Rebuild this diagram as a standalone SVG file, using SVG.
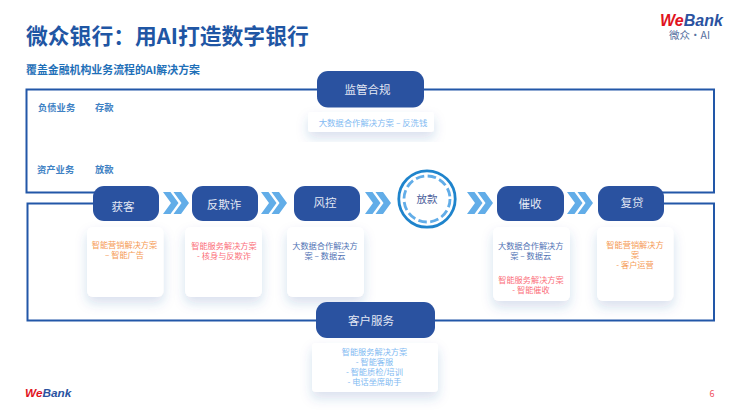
<svg xmlns="http://www.w3.org/2000/svg" width="740" height="415" viewBox="0 0 740 415">
<defs>
<filter id="sh" x="-40%" y="-40%" width="180%" height="190%"><feDropShadow dx="0" dy="6" stdDeviation="6" flood-color="#2a52a0" flood-opacity="0.18"/></filter>
<g id="chev"><path d="M0 0h7.500l8 11-8 11h-7.500l8-11z"/><path d="M10.500 0h7.500l8 11-8 11h-7.500l8-11z"/></g>
</defs>
<style>
text{font-family:"Noto Sans CJK SC","Liberation Sans",sans-serif}
.en{font-family:"Liberation Sans",sans-serif;font-weight:700;font-style:italic}
.pill{fill:#2a52a0}
.pt{fill:#e3e8f4;font-size:11.500px;text-anchor:middle}
.card{fill:#fff;filter:url(#sh)}
.ct{font-size:8.200px;text-anchor:middle}
.or{fill:#f59a55}.rd{fill:#fb6f7a}.bl{fill:#4f72b4}.lb{fill:#7fbaf2}
.side{fill:#3f82c4;font-size:9.300px;font-weight:700}
.line{fill:none;stroke:#2257a8;stroke-width:2}
.chev{fill:#62ade8}
</style>
<rect width="740" height="415" fill="#fff"/>
<text x="26" y="44" font-size="21.800" font-weight="700" fill="#1f56a4">微众银行：用AI打造数字银行</text>
<text x="26" y="74" font-size="10.900" font-weight="700" fill="#1f70b8">覆盖金融机构业务流程的AI解决方案</text>
<g id="logo-top"><text class="en" x="660" y="26" font-size="16"><tspan fill="#e0141e">We</tspan><tspan fill="#2a52a0">Bank</tspan></text><text x="669" y="39" font-size="10.500" fill="#56709f">微众·AI</text></g>
<g id="connectors">
<path class="line" d="M320 89.500H714V192.500H660"/>
<path class="line" d="M320 89.500H26.500V192.500H100"/>
<path class="line" d="M100 203.500H27.500V320.500H320"/>
<path class="line" d="M430 320.500H714V203.500H660"/>
<use href="#chev" class="chev" x="163" y="192"/>
<use href="#chev" class="chev" x="261" y="192"/>
<use href="#chev" class="chev" x="365" y="192"/>
<use href="#chev" class="chev" x="467" y="192"/>
<use href="#chev" class="chev" x="567" y="192"/>
</g>
<g id="row-liability"><text class="side" x="38" y="111">负债业务</text><text class="side" x="95" y="111">存款</text></g>
<g id="row-asset"><text class="side" x="37" y="173">资产业务</text><text class="side" x="95" y="173">放款</text></g>
<g id="node-regulation"><rect class="card" x="308" y="112" width="126" height="20" rx="3"/><text class="ct lb" x="373" y="126" style="font-size:8.400px">大数据合作解决方案 – 反洗钱</text><rect class="pill" x="317" y="71" width="107" height="36.500" rx="11"/><text class="pt" x="367.500" y="93.500">监管合规</text></g>
<g id="node-acquire"><rect class="pill" x="93" y="186" width="66" height="35" rx="11"/><text class="pt" x="123" y="210.500">获客</text><rect class="card" x="87" y="227" width="76.500" height="70" rx="6"/><text class="ct or" x="124.500" y="248">智能营销解决方案<tspan x="124.500" dy="10">– 智能广告</tspan></text></g>
<g id="node-fraud"><rect class="pill" x="192" y="186" width="66" height="35" rx="11"/><text class="pt" x="224" y="209">反欺诈</text><rect class="card" x="185" y="227" width="77" height="70" rx="6"/><text class="ct rd" x="224" y="249">智能服务解决方案<tspan x="224" dy="10">- 核身与反欺诈</tspan></text></g>
<g id="node-risk"><rect class="pill" x="294" y="186" width="66" height="35" rx="11"/><text class="pt" x="325" y="207">风控</text><rect class="card" x="287" y="227" width="77" height="70" rx="6"/><text class="ct bl" x="325" y="249">大数据合作解决方<tspan x="325" dy="10">案 – 数据云</tspan></text></g>
<g id="node-loan"><circle cx="427" cy="199" r="28.200" fill="#fff" stroke="#1f84cc" stroke-width="2.800"/><circle cx="427" cy="199" r="23" fill="none" stroke="#62ade8" stroke-width="2.800" stroke-dasharray="8.500 3.540"/><text x="427" y="203" font-size="10.500" text-anchor="middle" fill="#4d5f9c">放款</text></g>
<g id="node-collect"><rect class="pill" x="497" y="186" width="67" height="35" rx="11"/><text class="pt" x="530" y="208">催收</text><rect class="card" x="493" y="227" width="77" height="74" rx="6"/><text class="ct bl" x="530.700" y="249">大数据合作解决方<tspan x="530.700" dy="10">案 – 数据云</tspan></text><text class="ct rd" x="531" y="283">智能服务解决方案<tspan x="531" dy="10">- 智能催收</tspan></text></g>
<g id="node-reloan"><rect class="pill" x="598" y="186" width="66" height="35" rx="11"/><text class="pt" x="632" y="207">复贷</text><rect class="card" x="597" y="227" width="76.500" height="74" rx="6"/><text class="ct or" x="635" y="248">智能营销解决方<tspan x="635" dy="10">案</tspan><tspan x="635" dy="10">- 客户运营</tspan></text></g>
<g id="node-service"><rect class="card" x="312" y="343" width="126" height="49" rx="4"/><text class="ct lb" x="374.500" y="355">智能服务解决方案<tspan x="374.500" dy="10">- 智能客服</tspan><tspan x="374.500" dy="10">- 智能质检/培训</tspan><tspan x="374.500" dy="10">- 电话坐席助手</tspan></text><rect class="pill" x="316" y="302" width="119" height="36" rx="11"/><text class="pt" x="371" y="325">客户服务</text></g>
<g id="logo-bottom"><text class="en" x="25" y="397" font-size="11.800"><tspan fill="#e0141e">We</tspan><tspan fill="#2a52a0">Bank</tspan></text></g>
<text x="712" y="397" font-size="9" text-anchor="middle" fill="#f0555f">6</text>
</svg>
